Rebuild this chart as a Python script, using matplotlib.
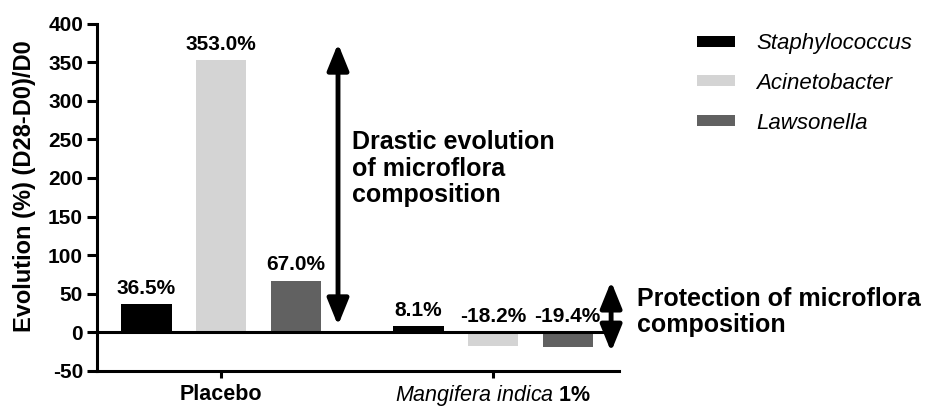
import matplotlib
matplotlib.use("Agg")
import matplotlib.pyplot as plt
import numpy as np

plt.rcParams['font.family'] = ['Liberation Sans', 'DejaVu Sans']
plt.rcParams['mathtext.fontset'] = 'custom'
plt.rcParams['mathtext.rm'] = 'Liberation Sans'
plt.rcParams['mathtext.it'] = 'Liberation Sans:italic'
plt.rcParams['mathtext.bf'] = 'Liberation Sans:bold'

groups = ['Placebo', r'$\mathit{Mangifera\ indica}$ $\mathbf{1\%}$']
series = ['Staphylococcus', 'Acinetobacter', 'Lawsonella']
staphylococcus = [36.5, 8.1]
acinetobacter = [353.0, -18.2]
lawsonella = [67.0, -19.4]
values = [staphylococcus, acinetobacter, lawsonella]
colors = ['#000000', '#d4d4d4', '#616161']
yticks = [-50, 0, 50, 100, 150, 200, 250, 300, 350, 400]

fig = plt.figure(figsize=(9.26, 4.07), dpi=100)
ax = fig.add_axes([97/926, 1-371/407, (619-97)/926, (371-23.5)/407])

x = np.arange(len(groups))
offs = [-0.274, 0, 0.274]
width = 0.184
for vals, off, col, name in zip(values, offs, colors, series):
    bars = ax.bar(x + off, vals, width, color=col, label=name, zorder=2)
    for b, v in zip(bars, vals):
        ypos = max(v, 0) + 8
        ax.text(b.get_x() + b.get_width()/2, ypos, f'{v:.1f}%', ha='center', va='bottom',
                fontsize=15, fontweight='bold', zorder=4)

ax.set_xlim(-0.456, 1.463)
ax.set_ylim(-50, 400)
ax.set_yticks(yticks)
ax.set_yticklabels([str(t) for t in yticks], fontsize=15, fontweight='bold')
ax.set_xticks(x)
ax.set_xticklabels(groups, fontsize=15.5)
ax.get_xticklabels()[0].set_fontweight('bold')
for s in ['top', 'right']:
    ax.spines[s].set_visible(False)
for s in ['left', 'bottom']:
    ax.spines[s].set_linewidth(2.2)
ax.tick_params(axis='y', width=2.2, length=7, pad=3)
ax.tick_params(axis='x', width=2.2, length=5, pad=4)
ax.axhline(0, xmin=0, xmax=(1.4375+0.456)/(1.463+0.456), color='black', lw=2.2, zorder=3)

ax.set_ylabel('Evolution (%) (D28-D0)/D0', fontsize=17, fontweight='bold')
ax.yaxis.set_label_coords(-0.117, 0.532)

# arrows
arrow_kw = dict(arrowstyle='<|-|>,head_length=1.6,head_width=0.65', color='black', lw=3.5,
                shrinkA=0, shrinkB=0)
ax.annotate('', xy=(0.43, 374), xytext=(0.43, 9), arrowprops=arrow_kw, annotation_clip=False)
ax.annotate('', xy=(1.434, 66), xytext=(1.434, -25), arrowprops=arrow_kw, annotation_clip=False)

ax.text(0.48, 212, 'Drastic evolution\nof microflora\ncomposition', ha='left', va='center',
        fontsize=18, fontweight='bold', linespacing=1.14)
ax.text(1.53, 26, 'Protection of microflora\ncomposition', ha='left', va='center',
        fontsize=18, fontweight='bold', linespacing=1.12, clip_on=False)

leg = ax.legend(loc='upper left', bbox_to_anchor=(697/926, 1-33/407), bbox_transform=fig.transFigure,
                frameon=False, borderpad=0, borderaxespad=0, handlelength=1.7, handleheight=0.38,
                handletextpad=0.95, labelspacing=0.85, prop={'size': 16, 'style': 'italic'})

fig.savefig('out.png', dpi=100)
